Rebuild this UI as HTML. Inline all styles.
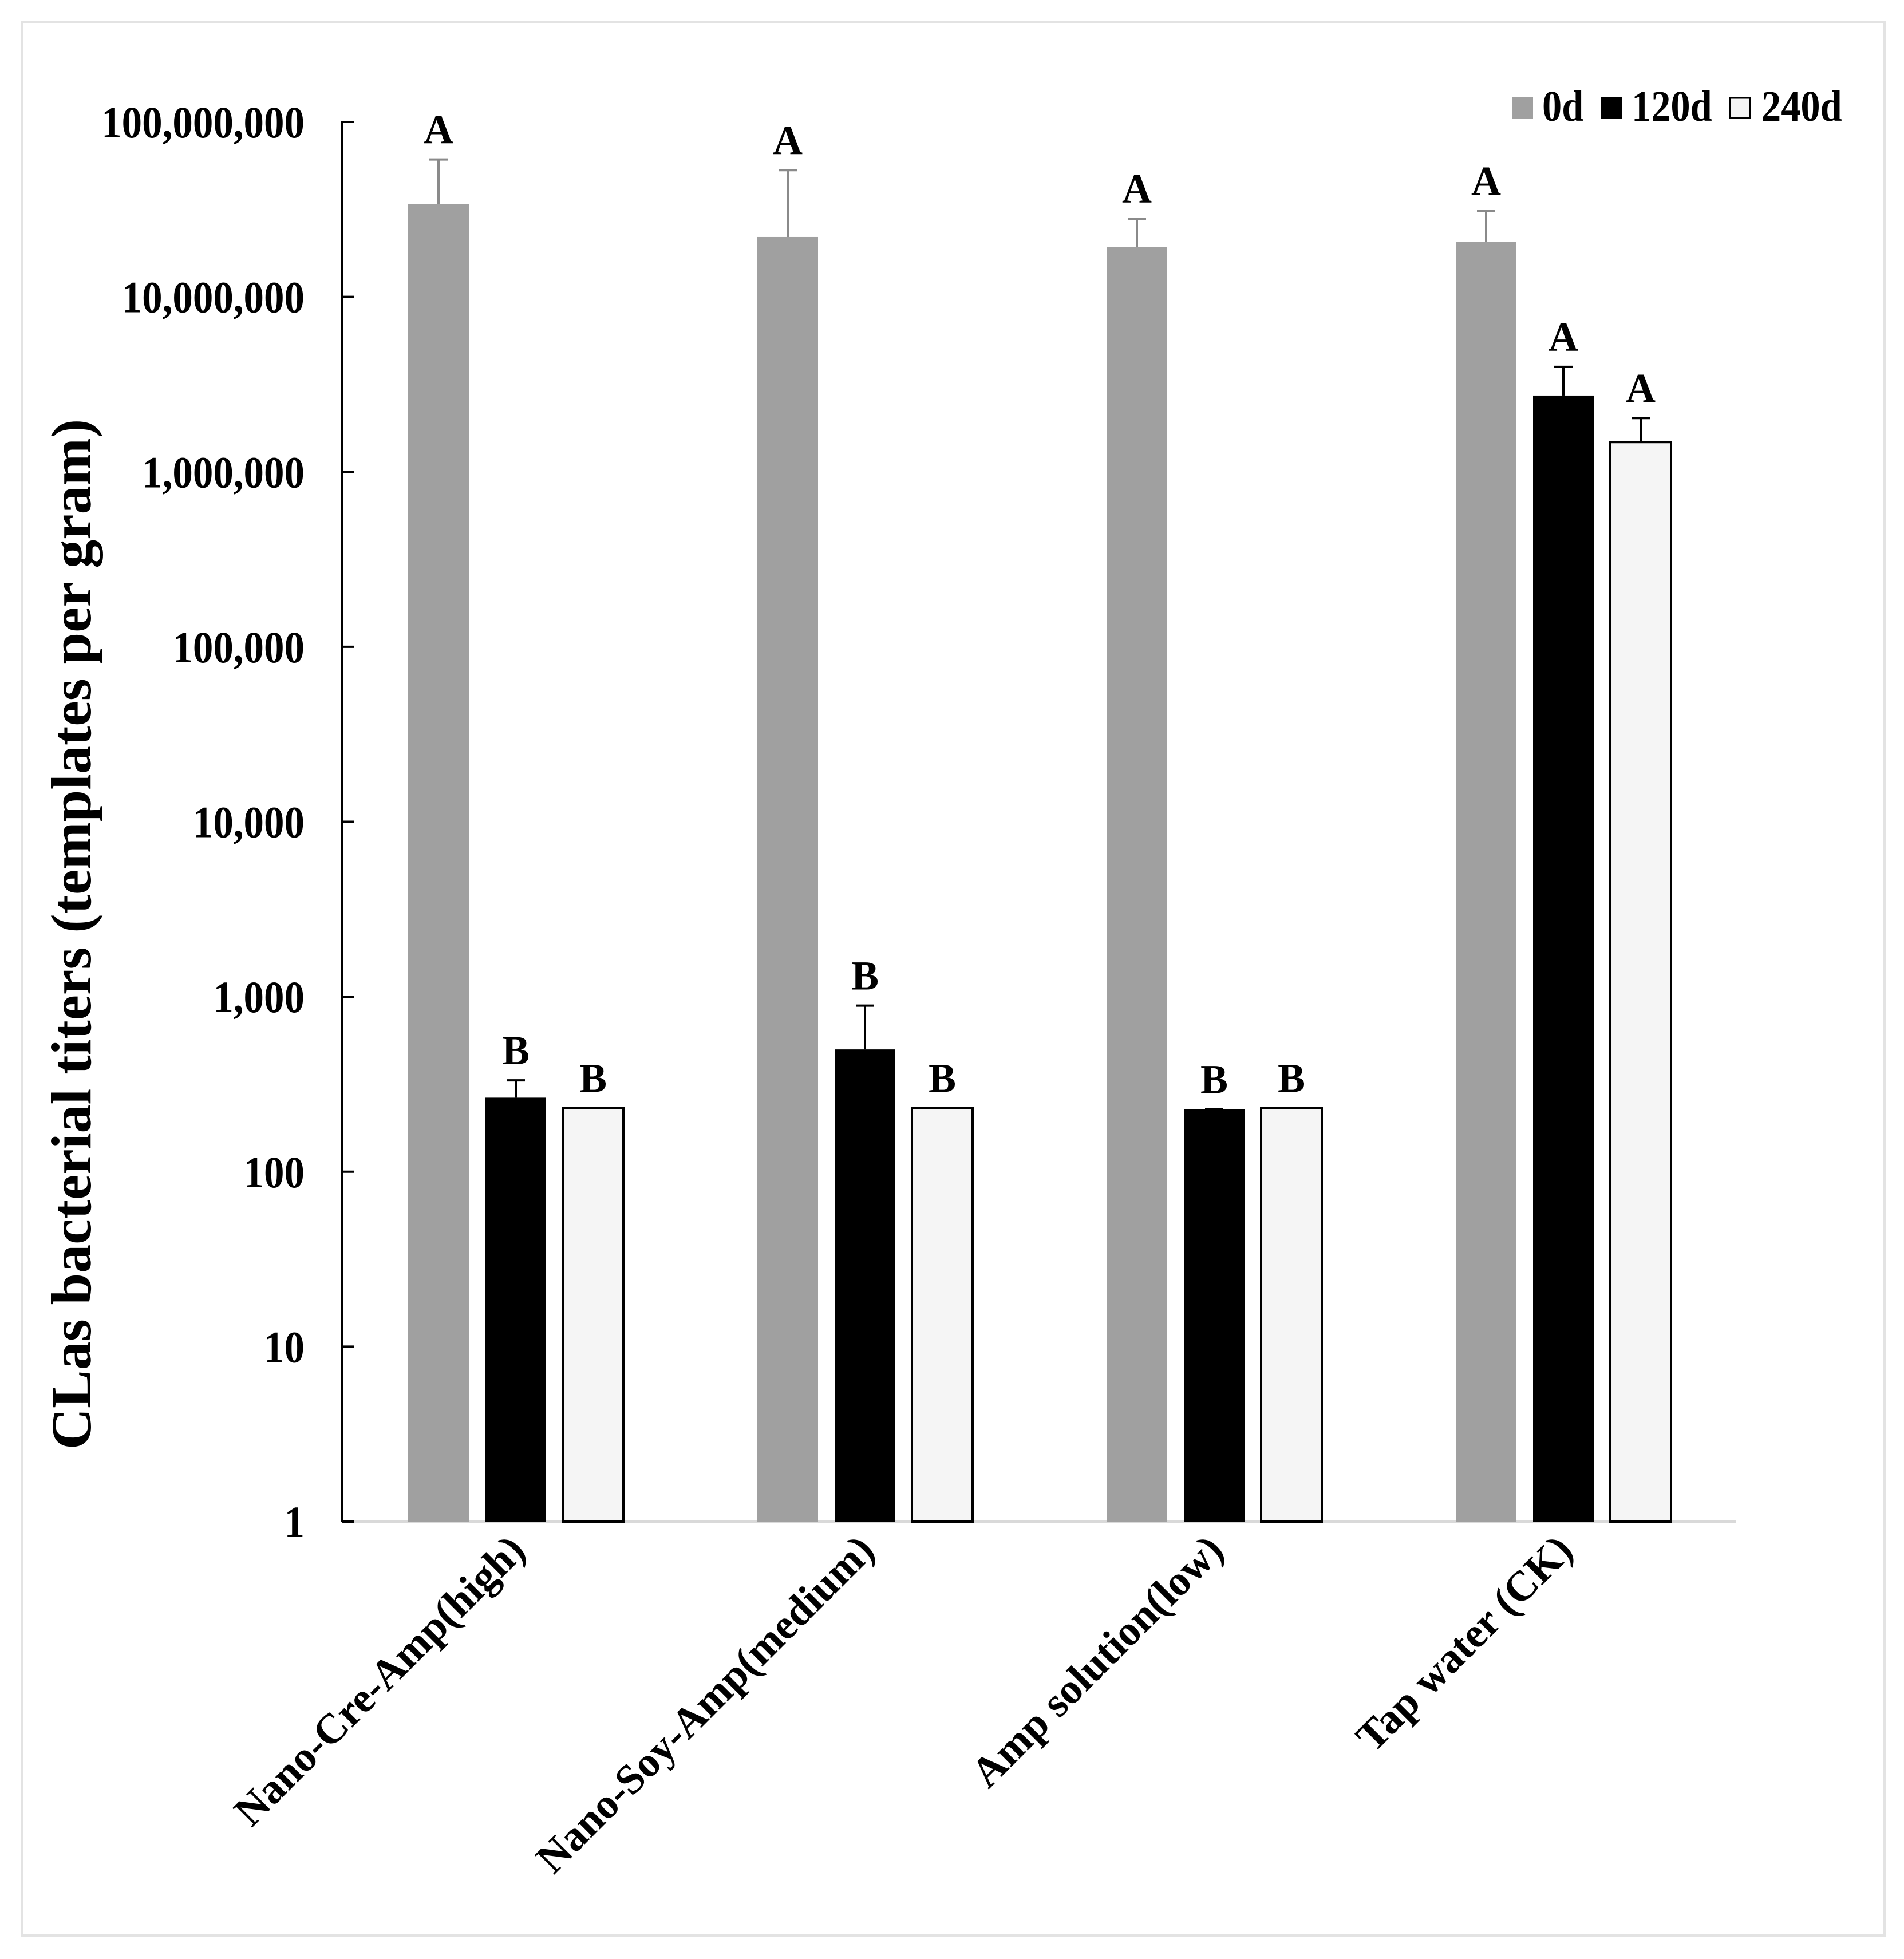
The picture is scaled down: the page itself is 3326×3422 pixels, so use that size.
<!DOCTYPE html>
<html><head><meta charset="utf-8"><style>
html,body{margin:0;padding:0;background:#fff;}
svg{display:block;font-family:"Liberation Serif",serif;font-weight:bold;}
</style></head><body>
<svg id="chart" width="3326" height="3422" viewBox="0 0 3326 3422" xmlns="http://www.w3.org/2000/svg">
<rect x="39" y="39" width="3253" height="3342" fill="#fff" stroke="#e3e3e3" stroke-width="4"/>
<g>
  <rect x="2641" y="170" width="37" height="37" fill="#a0a0a0"/>
  <text transform="translate(2694,211) scale(0.9,1)" font-size="76">0d</text>
  <rect x="2796" y="170" width="37" height="37" fill="#000"/>
  <text transform="translate(2850,211) scale(0.9,1)" font-size="76">120d</text>
  <rect x="3022" y="171" width="35" height="35" fill="#f5f5f5" stroke="#000" stroke-width="3"/>
  <text transform="translate(3077,211) scale(0.9,1)" font-size="76">240d</text>
</g>
<text transform="translate(158,1632) rotate(-90)" text-anchor="middle" font-size="100">CLas bacterial titers (templates per gram)</text>
<g id="plot"></g>
</svg>
<script>
const categories = ["Nano-Cre-Amp(high)", "Nano-Soy-Amp(medium)", "Amp solution(low)", "Tap water (CK)"];
const seriesNames = ["0d", "120d", "240d"];
const values0d = [3.4e7, 2.2e7, 1.93e7, 2.06e7];
const errors0d = [6.1e7, 5.3e7, 2.8e7, 3.1e7];
const values120d = [265, 500, 228, 2.73e6];
const errors120d = [333, 890, 228, 3.98e6];
const values240d = [231, 231, 231, 1.48e6];
const errors240d = [231, 231, 231, 2.03e6];
const letters0d = ["A", "A", "A", "A"];
const letters120d = ["B", "B", "B", "A"];
const letters240d = ["B", "B", "B", "A"];
const tickValues = [1, 10, 100, 1000, 10000, 100000, 1000000, 10000000, 100000000];
const tickLabels = ["1", "10", "100", "1,000", "10,000", "100,000", "1,000,000", "10,000,000", "100,000,000"];

const NS = "http://www.w3.org/2000/svg";
const plot = document.getElementById("plot");
const axX = 597, yBase = 2658, yTop = 213, xEnd = 3033;
const decade = (yBase - yTop) / 8;
function yScale(v) { return yBase - Math.log10(v) * decade; }
const groupStart = 713, groupStep = 610, barW = 106, barStep = 135;
function xScale(gi, si) { return groupStart + gi * groupStep + si * barStep; }
function mk(tag, attrs) {
  const e = document.createElementNS(NS, tag);
  for (const k in attrs) e.setAttribute(k, attrs[k]);
  plot.appendChild(e);
  return e;
}

let xa = mk("line", {x1: axX, y1: yBase, x2: xEnd, y2: yBase, stroke: "#d9d9d9", "stroke-width": 5});


let ya = mk("line", {x1: axX, y1: yTop - 2, x2: axX, y2: yBase, stroke: "#000", "stroke-width": 4});



tickValues.forEach((v, i) => {
  const y = yScale(v);
  const t = mk("line", {x1: axX, y1: y, x2: axX + 21, y2: y, stroke: "#000", "stroke-width": 4});
  
  
  const l = mk("text", {transform: "translate(532," + (y + 27) + ") scale(0.91,1)", "text-anchor": "end", "font-size": 78});
  l.textContent = tickLabels[i];
  
  
});

const seriesVals = [values0d, values120d, values240d];
const seriesErr = [errors0d, errors120d, errors240d];
const seriesLet = [letters0d, letters120d, letters240d];
const fills = ["#a0a0a0", "#000", "#f5f5f5"];
const errColor = ["#8a8a8a", "#000", "#000"];

categories.forEach((c, gi) => {
  seriesNames.forEach((s, si) => {
    const x = xScale(gi, si);
    const v = seriesVals[si][gi];
    const y = yScale(v);
    const attrs = {x: x, y: y, width: barW, height: yBase - y, fill: fills[si]};
    if (si === 2) { attrs.stroke = "#000"; attrs["stroke-width"] = 4; }
    const b = mk("rect", attrs);
    
    
    const e = seriesErr[si][gi];
    const ye = yScale(e);
    const cx = x + barW / 2;
    if (e > v) {
      const el = mk("line", {x1: cx, y1: y, x2: cx, y2: ye, stroke: errColor[si], "stroke-width": 4});
      
      
    }
    const cap = mk("line", {x1: cx - 16, y1: ye, x2: cx + 16, y2: ye, stroke: errColor[si], "stroke-width": 4});
    
    
    const lt = mk("text", {x: cx, y: ye - 28, "text-anchor": "middle", "font-size": 72});
    lt.textContent = seriesLet[si][gi];
    
    
  });
  const gc = xScale(gi, 1) + barW / 2;
  const xl = mk("text", {transform: "translate(" + (gc + 20) + ",2712) rotate(-45)", "text-anchor": "end", "font-size": 74});
  xl.textContent = c;
  
  
});
</script>
</body></html>
